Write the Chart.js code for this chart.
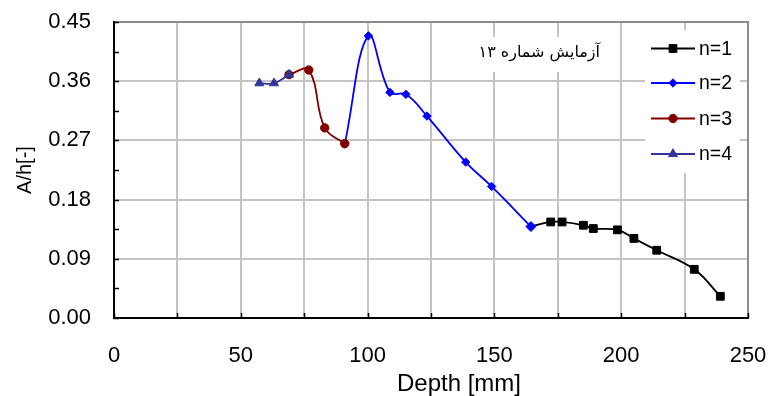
<!DOCTYPE html>
<html><head><meta charset="utf-8">
<script src="https://cdn.jsdelivr.net/npm/chart.js@4.4.1/dist/chart.umd.min.js"></script>
<style>html,body{margin:0;padding:0;background:#fff}#wrap{width:769px;height:396px;position:relative}</style>
</head><body><div id="wrap"><canvas id="c" width="769" height="396"></canvas></div>
<script>
// ---- data ----
const depth1 = [164.4, 172.2, 176.7, 185.1, 189.0, 198.5, 205.0, 214.0, 228.8, 239.1];
const ratio1 = [0.139, 0.146, 0.146, 0.141, 0.136, 0.134, 0.121, 0.103, 0.074, 0.033];
const depth2 = [91.0, 100.3, 108.8, 115.1, 123.4, 138.7, 148.9, 164.4];
const ratio2 = [0.265, 0.429, 0.343, 0.340, 0.307, 0.237, 0.200, 0.139];
const depth3 = [69.0, 76.8, 83.1, 91.0];
const ratio3 = [0.370, 0.377, 0.289, 0.265];
const depth4 = [57.3, 63.1, 69.0];
const ratio4 = [0.357, 0.357, 0.370];
const seriesNames = ['n=1', 'n=2', 'n=3', 'n=4'];
const xTickValues = [0, 25, 50, 75, 100, 125, 150, 175, 200, 225, 250];
const xLabelValues = [0, 50, 100, 150, 200, 250];
const yTickValues = [0.00, 0.09, 0.18, 0.27, 0.36, 0.45];
const yMinorValues = [0.045, 0.135, 0.225, 0.315, 0.405];
const xTitle = 'Depth [mm]';
const yTitle = 'A/h[-]';
const annotationText = 'آزمایش شماره ۱۳';

const FONT = "'Liberation Sans', Arial, sans-serif";
const pts = (xs, ys) => xs.map((x, i) => ({x: x, y: ys[i]}));

const styles = [
  {color: '#000000', pointStyle: 'rect', radius: 5.5, lw: 1.8},
  {color: '#0000ff', pointStyle: 'rectRot', radius: 4.2, lw: 1.8},
  {color: '#800000', pointStyle: 'circle', radius: 4.2, lw: 1.8},
  {color: '#333399', pointStyle: 'triangle', radius: 5.2, lw: 1.8}
];
const seriesData = [pts(depth1, ratio1), pts(depth2, ratio2), pts(depth3, ratio3), pts(depth4, ratio4)];

// shared junction points: n=1 starts at the n=2 end point (marker hidden under the blue one)
const radiusFor = (i, d) => d.map((p, k) => {
  if (i === 0 && k === 0) return 0;
  if (i === 1 && k === d.length - 1) return 5;
  return styles[i].radius;
});

const datasets = seriesData.map((d, i) => ({
  label: seriesNames[i],
  data: d,
  showLine: true,
  borderColor: styles[i].color,
  backgroundColor: styles[i].color,
  borderWidth: styles[i].lw,
  pointStyle: styles[i].pointStyle,
  pointRadius: radiusFor(i, d),
  pointHoverRadius: radiusFor(i, d),
  legendRadius: styles[i].radius,
  pointBorderWidth: 1,
  pointBorderColor: styles[i].color,
  pointBackgroundColor: styles[i].color,
  tension: 0.4,
  order: 3 - i
}));

const decor = {
  id: 'decor',
  beforeDatasetsDraw(chart) {
    const {ctx, chartArea: a, scales: {x, y}} = chart;
    ctx.save();
    // grey top/right border
    ctx.strokeStyle = '#8c8c8c';
    ctx.lineWidth = 2;
    ctx.beginPath();
    ctx.moveTo(a.left, a.top); ctx.lineTo(a.right, a.top); ctx.lineTo(a.right, a.bottom);
    ctx.stroke();
    // black axes
    ctx.strokeStyle = '#000';
    ctx.lineWidth = 2;
    ctx.beginPath();
    ctx.moveTo(a.left, a.top - 1); ctx.lineTo(a.left, a.bottom); ctx.lineTo(a.right + 1, a.bottom);
    ctx.stroke();
    // inside tick marks
    ctx.lineWidth = 1.5;
    ctx.beginPath();
    xTickValues.forEach(v => {
      const px = Math.round(x.getPixelForValue(v)) + 0.5;
      ctx.moveTo(px, a.bottom); ctx.lineTo(px, a.bottom - 5);
    });
    yTickValues.concat(yMinorValues).forEach(v => {
      const py = Math.round(y.getPixelForValue(v)) + 0.5;
      ctx.moveTo(a.left, py); ctx.lineTo(a.left + 5, py);
    });
    ctx.stroke();
    // x-axis title (offset to the right as in the original)
    ctx.fillStyle = '#000';
    ctx.font = '24px ' + FONT;
    ctx.textAlign = 'center';
    ctx.textBaseline = 'middle';
    ctx.fillText(xTitle, 459, 384);
    ctx.restore();
  },
  afterDatasetsDraw(chart) {
    const {ctx, chartArea: a} = chart;
    ctx.save();
    // legend box
    const lx = a.right - 103, ly = a.top + 8;
    ctx.fillStyle = '#fff';
    ctx.fillRect(lx, ly, 95, 143);
    ctx.font = '19.5px ' + FONT;
    ctx.textBaseline = 'middle';
    ctx.textAlign = 'left';
    const rowY = [48.5, 83, 118.5, 154];
    chart.data.datasets.forEach((ds, i) => {
      const yy = rowY[i];
      ctx.strokeStyle = ds.borderColor;
      ctx.lineWidth = ds.borderWidth;
      ctx.beginPath();
      ctx.moveTo(lx + 6, yy); ctx.lineTo(lx + 50, yy);
      ctx.stroke();
      ctx.fillStyle = ds.pointBackgroundColor;
      ctx.strokeStyle = ds.pointBorderColor;
      ctx.lineWidth = 1;
      Chart.helpers.drawPoint(ctx, {pointStyle: ds.pointStyle, radius: ds.legendRadius, rotation: 0, borderWidth: 1}, lx + 28, yy);
      ctx.fillStyle = '#000';
      ctx.fillText(ds.label, lx + 54, yy + 1);
    });
    // annotation box
    ctx.fillStyle = '#fff';
    ctx.fillRect(476, 37, 132, 35);
    ctx.fillStyle = '#000';
    ctx.font = '16px "DejaVu Sans", sans-serif';
    ctx.direction = 'rtl';
    ctx.textAlign = 'right';
    ctx.textBaseline = 'middle';
    ctx.fillText(annotationText, 600, 53);
    ctx.restore();
  }
};

new Chart(document.getElementById('c'), {
  type: 'scatter',
  data: {datasets: datasets},
  options: {
    responsive: false,
    animation: false,
    devicePixelRatio: 1,
    layout: {padding: {left: 0, right: 21, top: 22, bottom: 0}},
    plugins: {legend: {display: false}, tooltip: {enabled: false}},
    scales: {
      x: {
        type: 'linear', min: 0, max: 250,
        afterBuildTicks: s => { s.ticks = xTickValues.map(v => ({value: v})); },
        afterFit: s => { s.height = 78; s.paddingLeft = 0; s.paddingRight = 0; },
        ticks: {
          autoSkip: false, maxRotation: 0, padding: 25,
          color: '#000', font: {family: FONT, size: 22},
          callback: v => xLabelValues.includes(v) ? String(v) : ''
        },
        grid: {color: '#c4c4c4', lineWidth: 2, drawTicks: false},
        border: {display: false},
        title: {display: false, text: xTitle}
      },
      y: {
        type: 'linear', min: 0, max: 0.45,
        afterBuildTicks: s => { s.ticks = yTickValues.map(v => ({value: v})); },
        afterFit: s => { s.width = 114; s.paddingTop = 0; s.paddingBottom = 0; },
        ticks: {
          padding: 23, color: '#000', font: {family: FONT, size: 22},
          callback: v => Number(v).toFixed(2)
        },
        grid: {color: '#c4c4c4', lineWidth: 2, drawTicks: false},
        border: {display: false},
        title: {display: true, text: yTitle, color: '#000', font: {family: FONT, size: 20}, padding: {top: 13, bottom: 0}}
      }
    }
  },
  plugins: [decor]
});
</script></body></html>
